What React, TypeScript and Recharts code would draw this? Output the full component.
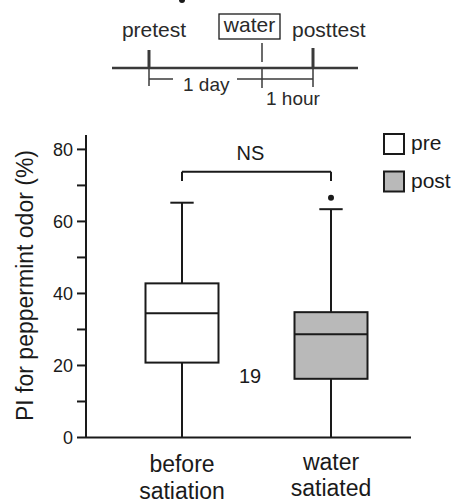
import { ComposedChart, Bar, Scatter, XAxis, YAxis, ReferenceLine } from "recharts";

// groups and box-plot statistics (PI, %)
const groups = ["before satiation", "water satiated"];
const groupLines = [["before", "satiation"], ["water", "satiated"]];
const whiskerLow = [0, 0];
const q1 = [20.8, 16.3];
const median = [34.5, 28.7];
const q3 = [42.8, 34.8];
const whiskerHigh = [65.2, 63.4];
const outliers: (number | null)[] = [null, 66.6];
const yTicks = [0, 10, 20, 30, 40, 50, 60, 70, 80];
const legendItems = ["pre", "post"];
const sampleSize = "19";

// NS bracket
const bracketY = 73.8;
const bracketDrop = 71.2;

const FONT = "'Liberation Sans', Arial, sans-serif";
const INK = "#1a1a1a";
const fills = ["#ffffff", "#b9b9b9"];

const data = groups.map((g, i) => ({
  group: g,
  range: [whiskerLow[i], whiskerHigh[i]],
  q1: q1[i],
  median: median[i],
  q3: q3[i],
  lo: whiskerLow[i],
  hi: whiskerHigh[i],
  outlier: outliers[i] ?? undefined,
}));

const BoxShape = (props: any) => {
  const { x, y, width, height, payload, index } = props;
  const top = Math.min(y, y + height);
  const bottom = Math.max(y, y + height);
  const k = (bottom - top) / (payload.hi - payload.lo);
  const yOf = (v: number) => bottom - (v - payload.lo) * k;
  const cx = x + width / 2;
  const cap = width * 0.32;
  return (
    <g stroke={INK} strokeWidth={2} fill="none">
      <line x1={cx} x2={cx} y1={yOf(payload.lo)} y2={yOf(payload.q1)} />
      <line x1={cx} x2={cx} y1={yOf(payload.q3)} y2={yOf(payload.hi)} />
      <line x1={cx - cap / 2} x2={cx + cap / 2} y1={yOf(payload.hi)} y2={yOf(payload.hi)} />
      <rect x={x} y={yOf(payload.q3)} width={width} height={yOf(payload.q1) - yOf(payload.q3)} fill={fills[index]} />
      <line x1={x} x2={x + width} y1={yOf(payload.median)} y2={yOf(payload.median)} />
    </g>
  );
};

const XTick = (props: any) => {
  const { x, payload } = props;
  const i = groups.indexOf(payload.value);
  const base = i === 0 ? 472 : 469.5;
  return (
    <text x={x} textAnchor="middle" fontSize={23} fill={INK} fontFamily={FONT}>
      <tspan x={x} y={base}>{groupLines[i][0]}</tspan>
      <tspan x={x} y={base + 26.5}>{groupLines[i][1]}</tspan>
    </text>
  );
};

export default function App() {
  return (
    <div style={{ position: "absolute", left: 0, top: 0, width: 458, height: 502, background: "#fff", fontFamily: FONT }}>
      <ComposedChart
        width={458}
        height={502}
        data={data}
        margin={{ top: 135, right: 47, bottom: 4.5, left: 46 }}
        barSize={73}
      >
        <XAxis
          dataKey="group"
          height={60}
          padding={{ left: 21.5, right: 5.5 }}
          tickLine={false}
          axisLine={{ stroke: INK, strokeWidth: 2 }}
          tick={<XTick />}
          interval={0}
        />
        <YAxis
          width={40}
          domain={[0, 84]}
          ticks={yTicks}
          interval={0}
          tickSize={9}
          tickMargin={4}
          tickFormatter={(v: number) => (v % 20 === 0 ? String(v) : "")}
          tick={{ fontSize: 18, fill: INK, fontFamily: FONT }}
          tickLine={{ stroke: INK, strokeWidth: 2 }}
          axisLine={{ stroke: INK, strokeWidth: 2 }}
        />
        <Bar dataKey="range" shape={<BoxShape />} isAnimationActive={false} />
        <Scatter
          dataKey="outlier"
          fill={INK}
          isAnimationActive={false}
          shape={(p: any) => <circle cx={p.cx} cy={p.cy} r={3} fill={INK} />}
        />
        <ReferenceLine
          segment={[{ x: groups[0], y: bracketY }, { x: groups[1], y: bracketY }]}
          stroke={INK}
          strokeWidth={2}
          label={{
            content: (p: any) => (
              <text
                x={p.viewBox.x + p.viewBox.width / 2 - 6}
                y={p.viewBox.y - 11.5}
                textAnchor="middle"
                fontSize={20}
                fill={INK}
                fontFamily={FONT}
              >
                NS
              </text>
            ),
          }}
        />
        <ReferenceLine segment={[{ x: groups[0], y: bracketY }, { x: groups[0], y: bracketDrop }]} stroke={INK} strokeWidth={2} />
        <ReferenceLine segment={[{ x: groups[1], y: bracketY }, { x: groups[1], y: bracketDrop }]} stroke={INK} strokeWidth={2} />
      </ComposedChart>

      <svg width={458} height={502} style={{ position: "absolute", left: 0, top: 0, pointerEvents: "none" }} fontFamily={FONT}>
        {/* protocol timeline */}
        <g stroke="#3a3a3a" fill="none">
          <line x1={112} x2={358} y1={68} y2={68} strokeWidth={2.5} />
          <line x1={149} x2={149} y1={50} y2={68} strokeWidth={3} />
          <line x1={313} x2={313} y1={48} y2={68} strokeWidth={3} />
          <line x1={262} x2={262} y1={43} y2={62} strokeWidth={1.5} />
          <line x1={149} x2={149} y1={68} y2={86} strokeWidth={1.5} />
          <line x1={262} x2={262} y1={68} y2={88} strokeWidth={1.5} />
          <line x1={313} x2={313} y1={68} y2={87} strokeWidth={1.5} />
          <line x1={149} x2={173} y1={79} y2={79} strokeWidth={1.5} />
          <line x1={237} x2={313} y1={79} y2={79} strokeWidth={1.5} />
          <rect x={219} y={14} width={61} height={25} strokeWidth={1.3} stroke={INK} />
        </g>
        <g fill="#2a2a2a">
          <text x={154} y={37} fontSize={21} textAnchor="middle">pretest</text>
          <text x={249.5} y={32} fontSize={21} textAnchor="middle">water</text>
          <text x={292} y={37} fontSize={21}>posttest</text>
          <text x={183} y={90.5} fontSize={19}>1 day</text>
          <text x={266} y={105} fontSize={19}>1 hour</text>
        </g>

        {/* y axis title */}
        <text x={33} y={285.5} fontSize={23} fill={INK} textAnchor="middle" transform="rotate(-90 33 285.5)">
          PI for peppermint odor (%)
        </text>

        {/* n */}
        <text x={250} y={383} fontSize={20} fill={INK} textAnchor="middle">{sampleSize}</text>

        {/* legend */}
        {legendItems.map((name, i) => (
          <g key={name}>
            <rect x={384} y={134 + i * 37.5} width={20} height={20} fill={fills[i]} stroke={INK} strokeWidth={2} />
            <text x={411} y={150 + i * 38} fontSize={21} fill={INK}>{name}</text>
          </g>
        ))}
      </svg>
    </div>
  );
}
